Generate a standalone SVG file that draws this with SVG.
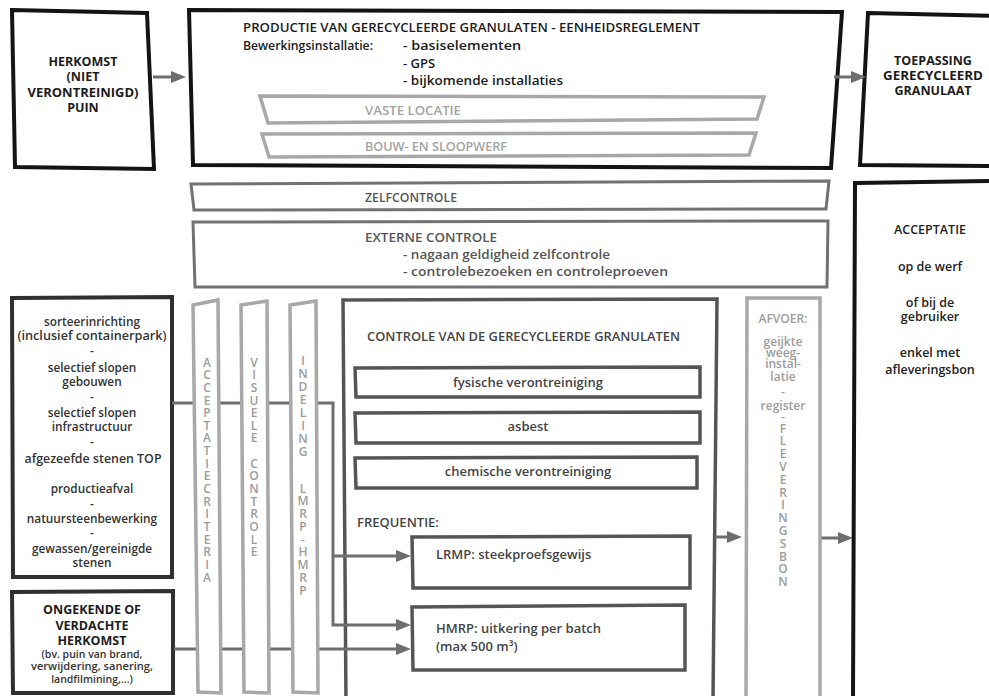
<svg xmlns="http://www.w3.org/2000/svg" width="989" height="696" viewBox="0 0 989 696">
<defs>
<style>
text{font-family:"Open Sans","Noto Sans","Liberation Sans",sans-serif}
.b{fill:#fff;stroke:#141414;stroke-width:4}
.d{fill:#fff;stroke:#303030;stroke-width:4}
.m{fill:#fff;stroke:#555;stroke-width:3.5}
.g{fill:#fff;stroke:#727272;stroke-width:3}
.l{fill:#fff;stroke:#a8a8a8;stroke-width:3.5}
.c{fill:none;stroke:#6e6e6e;stroke-width:3}
.hd{font-size:12.5px;font-weight:700;fill:#1c1c1c;text-anchor:middle}
.tx{font-size:12px;font-weight:600;fill:#1c1c1c}
.tl{font-size:13px;font-weight:600;fill:#1c1c1c}
.lt{font-size:12.5px;font-weight:600;fill:#a3a3a3}
.gt{font-size:12.5px;font-weight:600;fill:#555}
.gl{font-size:13px;font-weight:600;fill:#555}
.lb{font-size:11.8px;font-weight:600;fill:#333;text-anchor:middle}
.sm{font-size:10.5px;font-weight:600;fill:#333;text-anchor:middle}
.ct{font-size:13px;font-weight:600;fill:#444}
.cm{font-size:13px;font-weight:600;fill:#444;text-anchor:middle}
.vl{font-size:12px;font-weight:600;fill:#9c9c9c;text-anchor:middle}
.ac{font-size:12.5px;font-weight:600;fill:#222;text-anchor:middle}
</style>
<marker id="ah" viewBox="0 0 15 12" markerWidth="15" markerHeight="12" refX="7" refY="6" orient="auto" markerUnits="userSpaceOnUse"><path d="M0,0 L15,6 L0,12 z" fill="#6e6e6e"/></marker>
</defs>

<g id="herkomst">
<polygon class="b" points="12,10 147,13 154,169 15,167"/>
<text class="hd" x="83" y="66">HERKOMST</text>
<text class="hd" x="83" y="81.3">(NIET</text>
<text class="hd" x="83" y="96.6" textLength="111" lengthAdjust="spacingAndGlyphs">VERONTREINIGD)</text>
<text class="hd" x="83" y="112">PUIN</text>
</g>

<g id="productie">
<polygon class="b" points="189,10 842,12 831,168 193,165"/>
<text class="tx" x="243" y="32" textLength="457" lengthAdjust="spacingAndGlyphs">PRODUCTIE VAN GERECYCLEERDE GRANULATEN - EENHEIDSREGLEMENT</text>
<text class="tl" x="243" y="50" textLength="130" lengthAdjust="spacingAndGlyphs">Bewerkingsinstallatie:</text>
<text class="tl" x="403" y="50" textLength="118" lengthAdjust="spacingAndGlyphs">- basiselementen</text>
<text class="tl" x="403" y="67.5">- GPS</text>
<text class="tl" x="403" y="85" textLength="160" lengthAdjust="spacingAndGlyphs">- bijkomende installaties</text>
</g>

<g id="vaste-locatie">
<polygon class="l" points="260,96 764,97 757,119 268,123"/>
<text class="lt" x="365" y="115" textLength="96" lengthAdjust="spacingAndGlyphs">VASTE LOCATIE</text>
</g>

<g id="bouw-sloopwerf">
<polygon class="l" points="262,134 756,133 749,155 269,157"/>
<text class="lt" x="365" y="151" textLength="142" lengthAdjust="spacingAndGlyphs">BOUW- EN SLOOPWERF</text>
</g>

<g id="toepassing">
<polygon class="b" points="868,13 995,16 995,166 860,165"/>
<text class="hd" x="933" y="65">TOEPASSING</text>
<text class="hd" x="933" y="80" textLength="100" lengthAdjust="spacingAndGlyphs">GERECYCLEERD</text>
<text class="hd" x="933" y="95">GRANULAAT</text>
</g>

<g id="zelfcontrole">
<polygon class="g" points="191,184 829,181 826,209 194,210"/>
<text class="gt" x="365" y="202" textLength="92" lengthAdjust="spacingAndGlyphs">ZELFCONTROLE</text>
</g>

<g id="externe-controle">
<polygon class="g" points="193,222 828,221 827,287 195,287"/>
<text class="gt" x="365" y="242" textLength="132" lengthAdjust="spacingAndGlyphs">EXTERNE CONTROLE</text>
<text class="gl" x="403" y="259" textLength="207" lengthAdjust="spacingAndGlyphs">- nagaan geldigheid zelfcontrole</text>
<text class="gl" x="403" y="275.5" textLength="265" lengthAdjust="spacingAndGlyphs">- controlebezoeken en controleproeven</text>
</g>

<g id="herkomst-lijst">
<polygon class="d" points="12,298 172,297 172,577 13,577"/>
<text class="lb" x="92" y="326">sorteerinrichting</text>
<text class="lb" x="92" y="340" textLength="149" lengthAdjust="spacingAndGlyphs">(inclusief containerpark)</text>
<text class="lb" x="92" y="355">-</text>
<text class="lb" x="92" y="372">selectief slopen</text>
<text class="lb" x="92" y="386">gebouwen</text>
<text class="lb" x="92" y="401">-</text>
<text class="lb" x="92" y="417">selectief slopen</text>
<text class="lb" x="92" y="431">infrastructuur</text>
<text class="lb" x="92" y="446">-</text>
<text class="lb" x="93" y="463" textLength="137" lengthAdjust="spacingAndGlyphs">afgezeefde stenen TOP</text>
<text class="lb" x="92" y="493">productieafval</text>
<text class="lb" x="92" y="508">-</text>
<text class="lb" x="92" y="523">natuursteenbewerking</text>
<text class="lb" x="92" y="537">-</text>
<text class="lb" x="92" y="553">gewassen/gereinigde</text>
<text class="lb" x="92" y="567">stenen</text>
</g>

<g id="ongekende-herkomst">
<polygon class="d" points="12,592 173,591 173,693 13,693"/>
<text class="hd" x="92" y="614">ONGEKENDE OF</text>
<text class="hd" x="92" y="630">VERDACHTE</text>
<text class="hd" x="92" y="645">HERKOMST</text>
<text class="sm" x="92" y="658">(bv. puin van brand,</text>
<text class="sm" x="92" y="670" textLength="122" lengthAdjust="spacingAndGlyphs">verwijdering, sanering,</text>
<text class="sm" x="92" y="683">landfilmining,...)</text>
</g>

<g id="controle-granulaten">
<polygon class="m" points="343,300 717,299 713,702 346,702"/>
<text class="ct" x="367" y="341" textLength="313" lengthAdjust="spacingAndGlyphs">CONTROLE VAN DE GERECYCLEERDE GRANULATEN</text>
<text class="ct" x="357" y="527">FREQUENTIE:</text>
</g>

<g id="fysische-verontreiniging">
<polygon class="m" points="355,368 700,367 700,397 356,397"/>
<text class="cm" x="528" y="387">fysische verontreiniging</text>
</g>

<g id="asbest">
<polygon class="m" points="355,413 700,412 700,443 356,443"/>
<text class="cm" x="528" y="431">asbest</text>
</g>

<g id="chemische-verontreiniging">
<polygon class="m" points="355,458 697,457 697,488 356,488"/>
<text class="cm" x="528" y="476">chemische verontreiniging</text>
</g>

<g id="lrmp">
<polygon class="m" points="412,537 690,536 690,588 413,588"/>
<text class="ct" x="436" y="559">LRMP: steekproefsgewijs</text>
</g>

<g id="hmrp">
<polygon class="m" points="412,607 685,605 685,670 413,670"/>
<text class="ct" x="436" y="633">HMRP: uitkering per batch</text>
<text class="ct" x="436" y="651">(max 500 m³)</text>
</g>

<g id="connectors">
<path class="c" d="M153,77 H178" marker-end="url(#ah)"/>
<path class="c" d="M834,77 H858" marker-end="url(#ah)"/>
<path class="c" d="M172,403 H333 V625 H403" marker-end="url(#ah)"/>
<path class="c" d="M333,556 H403" marker-end="url(#ah)"/>
<path class="c" d="M174,649 H403" marker-end="url(#ah)"/>
<path class="c" d="M715,537 H734" marker-end="url(#ah)"/>
<path class="c" d="M821,538 H845" marker-end="url(#ah)"/>
</g>

<g id="acceptatiecriteria">
<polygon class="l" points="193,305 218,300 221,693 198,692"/>
<text class="vl"><tspan x="207" y="366.5">A</tspan><tspan x="207" y="379.2">C</tspan><tspan x="207" y="391.8">C</tspan><tspan x="207" y="404.5">E</tspan><tspan x="207" y="417.1">P</tspan><tspan x="207" y="429.8">T</tspan><tspan x="207" y="442.4">A</tspan><tspan x="207" y="455.1">T</tspan><tspan x="207" y="467.7">I</tspan><tspan x="207" y="480.4">E</tspan><tspan x="207" y="493">C</tspan><tspan x="207" y="505.7">R</tspan><tspan x="207" y="518.3">I</tspan><tspan x="207" y="531">T</tspan><tspan x="207" y="543.6">E</tspan><tspan x="207" y="556.3">R</tspan><tspan x="207" y="568.9">I</tspan><tspan x="207" y="581.6">A</tspan></text>
</g>

<g id="visuele-controle">
<polygon class="l" points="241,305 267,301 269,693 244,692"/>
<text class="vl"><tspan x="254" y="366.5">V</tspan><tspan x="254" y="379.2">I</tspan><tspan x="254" y="391.8">S</tspan><tspan x="254" y="404.5">U</tspan><tspan x="254" y="417.1">E</tspan><tspan x="254" y="429.8">L</tspan><tspan x="254" y="442.4">E</tspan><tspan x="254" y="467.7">C</tspan><tspan x="254" y="480.4">O</tspan><tspan x="254" y="493">N</tspan><tspan x="254" y="505.7">T</tspan><tspan x="254" y="518.3">R</tspan><tspan x="254" y="531">O</tspan><tspan x="254" y="543.6">L</tspan><tspan x="254" y="556.3">E</tspan></text>
</g>

<g id="indeling-lmrp-hmrp">
<polygon class="l" points="290,305 316,301 318,693 293,692"/>
<text class="vl"><tspan x="303" y="364.5">I</tspan><tspan x="303" y="377.6">N</tspan><tspan x="303" y="390.7">D</tspan><tspan x="303" y="403.8">E</tspan><tspan x="303" y="416.9">L</tspan><tspan x="303" y="430">I</tspan><tspan x="303" y="443.1">N</tspan><tspan x="303" y="456.2">G</tspan><tspan x="303" y="492.5">L</tspan><tspan x="303" y="505.3">M</tspan><tspan x="303" y="518">R</tspan><tspan x="303" y="530.8">P</tspan><tspan x="303" y="543.5">-</tspan><tspan x="303" y="556.3">H</tspan><tspan x="303" y="569">M</tspan><tspan x="303" y="581.8">R</tspan><tspan x="303" y="594.5">P</tspan></text>
</g>

<g id="afvoer">
<polygon class="l" points="747,298 820,298 820,702 746,702"/>
<text class="vl" x="783" y="323">AFVOER:</text>
<text class="vl" x="783" y="346">geijkte</text>
<text class="vl" x="783" y="357">weeg-</text>
<text class="vl" x="783" y="368">instal-</text>
<text class="vl" x="783" y="381">latie</text>
<text class="vl" x="783" y="396">-</text>
<text class="vl" x="783" y="410">register</text>
<text class="vl" x="783" y="421">-</text>
<text class="vl"><tspan x="783" y="432.5">F</tspan><tspan x="783" y="445.3">L</tspan><tspan x="783" y="458.1">E</tspan><tspan x="783" y="470.9">V</tspan><tspan x="783" y="483.7">E</tspan><tspan x="783" y="496.5">R</tspan><tspan x="783" y="509.3">I</tspan><tspan x="783" y="522.1">N</tspan><tspan x="783" y="534.9">G</tspan><tspan x="783" y="547.7">S</tspan><tspan x="783" y="560.5">B</tspan><tspan x="783" y="573.3">O</tspan><tspan x="783" y="586.1">N</tspan></text>
</g>

<g id="acceptatie">
<polygon class="b" points="855,183 995,181 995,702 853,702"/>
<text class="ac" x="930" y="234">ACCEPTATIE</text>
<text class="ac" x="930" y="271">op de werf</text>
<text class="ac" x="930" y="307">of bij de</text>
<text class="ac" x="930" y="321">gebruiker</text>
<text class="ac" x="930" y="357">enkel met</text>
<text class="ac" x="930" y="374">afleveringsbon</text>
</g>
</svg>
